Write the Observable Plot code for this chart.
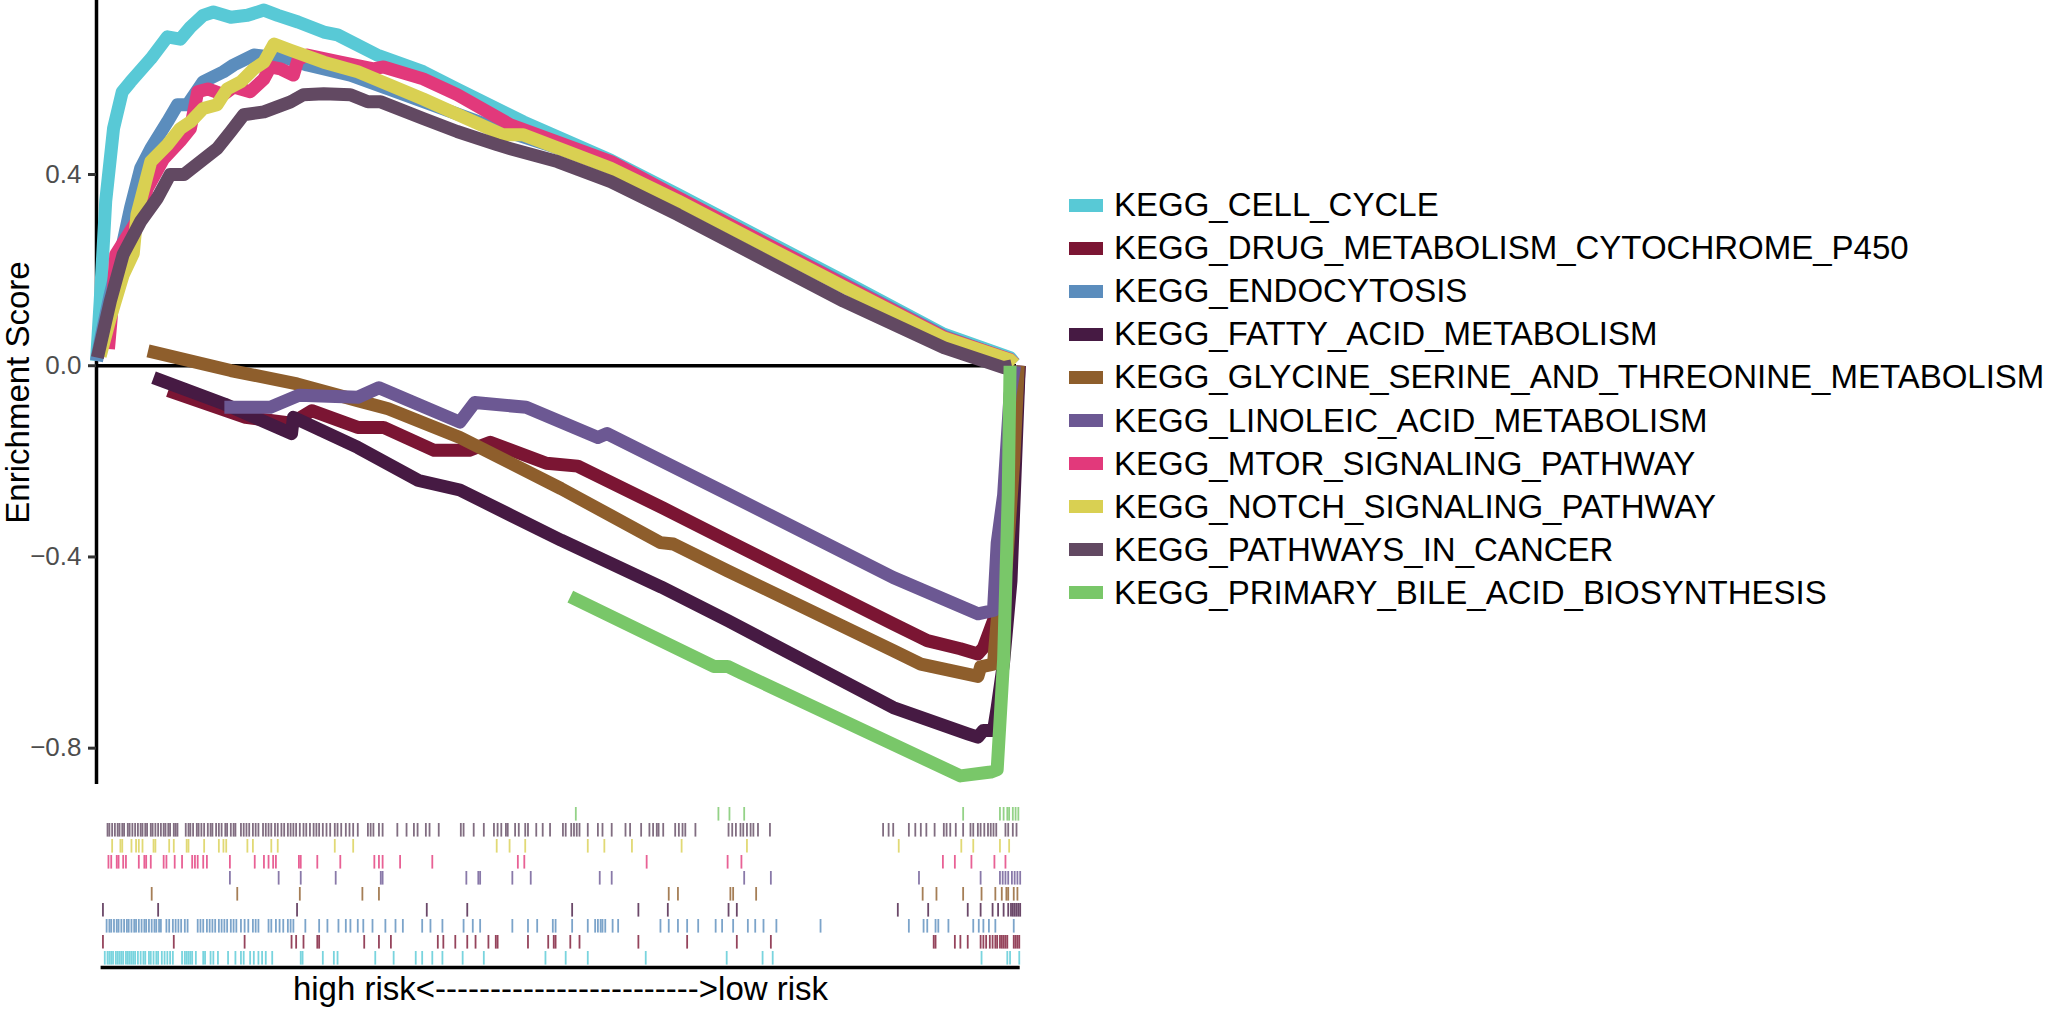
<!DOCTYPE html>
<html>
<head>
<meta charset="utf-8">
<script src="https://cdn.jsdelivr.net/npm/d3@7"></script>
<script src="https://cdn.jsdelivr.net/npm/@observablehq/plot@0.6"></script>
<style>
  html, body { margin: 0; padding: 0; background: #fff; }
  #wrap { position: relative; width: 2050px; height: 1011px; background: #fff; font-family: 'Liberation Sans', Arial, sans-serif; }
  #toppanel { position: absolute; left: 0; top: 0; }
  #rugpanel { position: absolute; left: 0; top: 790px; }
  #legend { position: absolute; left: 1069px; top: 183.5px; font-size: 33px; color: #000; }
  .row { display: flex; align-items: center; height: 43.1px; white-space: nowrap; }
  .key { display: inline-block; width: 34px; height: 13px; margin-right: 11px; }
</style>
</head>
<body>
<div id="wrap">
  <div id="toppanel"></div>
  <div id="rugpanel"></div>
  <div id="legend"></div>
</div>
<script>
// ---------- data ----------
const pathways = [
  "KEGG_CELL_CYCLE",
  "KEGG_DRUG_METABOLISM_CYTOCHROME_P450",
  "KEGG_ENDOCYTOSIS",
  "KEGG_FATTY_ACID_METABOLISM",
  "KEGG_GLYCINE_SERINE_AND_THREONINE_METABOLISM",
  "KEGG_LINOLEIC_ACID_METABOLISM",
  "KEGG_MTOR_SIGNALING_PATHWAY",
  "KEGG_NOTCH_SIGNALING_PATHWAY",
  "KEGG_PATHWAYS_IN_CANCER",
  "KEGG_PRIMARY_BILE_ACID_BIOSYNTHESIS"
];
const colors = ["#58C9D6", "#7B1533", "#5B8DBD", "#461A43", "#8E5E2C",
                "#6C5893", "#E2397B", "#D9D052", "#624962", "#79C769"];

const yTicks = [-0.8, -0.4, 0, 0.4];
const xLabel = "high risk<------------------------>low risk";
const yLabel = "Enrichment Score";

// running enrichment score: [rank position (% of ranked list), ES]
const esCellCycle = [[0,0.01],[0.4,0.135],[1.0,0.344],[1.85,0.496],[2.8,0.573],[3.7,0.594],[5.9,0.642],[7.7,0.688],[9.1,0.683],[10.2,0.708],[11.6,0.733],[12.7,0.74],[14.6,0.729],[16.4,0.733],[18.2,0.744],[19.7,0.733],[21.9,0.719],[24.7,0.698],[26.2,0.692],[30.5,0.65],[35.5,0.615],[39.2,0.579],[46.4,0.51],[55.9,0.43],[63.2,0.358],[81.2,0.177],[92.1,0.066],[99.3,0.017],[99.8,0.005]];
const esDrug = [[7.8,-0.052],[16.2,-0.108],[21.2,-0.12],[23.4,-0.094],[28.4,-0.129],[31.2,-0.129],[36.7,-0.177],[40.5,-0.177],[42.8,-0.16],[48.9,-0.204],[52.3,-0.21],[61.6,-0.298],[68.6,-0.366],[86.6,-0.54],[90.3,-0.575],[93.9,-0.592],[95.8,-0.603],[96.4,-0.59],[97.5,-0.533],[98.6,-0.47],[99.4,-0.35],[100.0,-0.1],[100.3,0]];
const esEndocytosis = [[0,0.01],[0.5,0.06],[1.5,0.15],[2.6,0.233],[3.7,0.33],[4.8,0.413],[5.9,0.454],[7.7,0.51],[8.8,0.546],[9.9,0.546],[11.6,0.594],[13.8,0.615],[14.9,0.629],[17.1,0.65],[18.9,0.646],[20.3,0.646],[22.9,0.629],[27.6,0.608],[33.0,0.57],[43.6,0.496],[55.9,0.42],[63.2,0.35],[81.2,0.172],[92.1,0.062],[99.5,0.01]];
const esFatty = [[6.2,-0.025],[13.9,-0.08],[21.2,-0.142],[21.4,-0.108],[28.4,-0.171],[35.0,-0.24],[39.5,-0.26],[50.5,-0.365],[61.4,-0.463],[68.6,-0.533],[86.6,-0.715],[94.7,-0.77],[95.8,-0.777],[96.4,-0.763],[97.5,-0.763],[97.9,-0.715],[98.6,-0.62],[99.4,-0.45],[100.0,-0.15],[100.3,0]];
const esGlycine = [[5.6,0.031],[14.6,-0.01],[21.8,-0.038],[28.4,-0.073],[31.7,-0.09],[39.5,-0.15],[50.5,-0.257],[61.3,-0.37],[62.7,-0.373],[68.6,-0.429],[86.6,-0.596],[89.6,-0.624],[95.8,-0.65],[96.1,-0.63],[97.5,-0.624],[97.9,-0.533],[98.9,-0.42],[99.7,-0.2],[100.2,0]];
const esLinoleic = [[13.9,-0.087],[18.9,-0.087],[22.0,-0.062],[28.4,-0.066],[30.7,-0.046],[39.5,-0.118],[41.1,-0.077],[46.7,-0.087],[54.5,-0.15],[55.5,-0.142],[68.6,-0.268],[86.6,-0.443],[95.8,-0.519],[97.5,-0.512],[97.9,-0.371],[98.6,-0.27],[99.3,-0.06],[99.8,0]];
const esMtor = [[1.3,0.035],[1.6,0.1],[2.1,0.233],[4.8,0.316],[5.5,0.37],[7.3,0.433],[9.1,0.47],[10.2,0.496],[11.0,0.573],[12.1,0.579],[13.8,0.567],[14.9,0.583],[16.7,0.573],[18.2,0.6],[18.9,0.625],[20.0,0.621],[21.4,0.608],[21.9,0.64],[22.9,0.65],[26.5,0.635],[30.1,0.621],[31.2,0.625],[35.5,0.6],[39.2,0.567],[45.0,0.504],[55.9,0.427],[63.2,0.352],[81.2,0.17],[92.1,0.06],[99.3,0.013],[99.8,0.004]];
const esNotch = [[0.4,0.02],[1.5,0.1],[2.9,0.19],[4.0,0.235],[4.4,0.316],[5.9,0.427],[7.7,0.462],[9.1,0.496],[10.2,0.51],[11.6,0.538],[13.1,0.546],[14.2,0.579],[15.7,0.594],[17.1,0.621],[18.2,0.635],[19.3,0.673],[21.1,0.66],[24.7,0.635],[28.4,0.615],[35.5,0.558],[44.2,0.483],[46.4,0.483],[55.9,0.413],[63.2,0.345],[81.2,0.165],[92.1,0.058],[99.3,0.012],[99.8,0.003]];
const esCancer = [[0.1,0.017],[1.5,0.135],[2.9,0.233],[4.8,0.302],[6.6,0.35],[8.0,0.4],[9.5,0.4],[11.3,0.427],[13.1,0.454],[14.6,0.49],[16.0,0.525],[18.2,0.531],[21.1,0.552],[22.5,0.567],[24.7,0.569],[27.6,0.567],[29.5,0.552],[30.9,0.552],[35.5,0.517],[39.2,0.49],[43.6,0.462],[45.0,0.454],[50.1,0.427],[55.9,0.385],[63.2,0.316],[81.2,0.135],[92.1,0.038],[98.6,-0.004],[99.5,0.0]];
const esBile = [[51.5,-0.483],[67.1,-0.629],[68.6,-0.629],[70.0,-0.642],[93.9,-0.858],[97.2,-0.85],[97.9,-0.845],[98.6,-0.615],[99.1,-0.27],[99.3,0]];

// gene hit positions (% of ranked list)
const hitsCellCycle = [0.9,1.2,1.4,1.6,1.8,2.1,2.3,2.5,2.7,2.9,3.2,3.4,3.6,3.8,4.0,4.2,4.5,4.8,5.1,5.3,5.7,5.9,6.2,6.5,6.7,7.1,7.4,7.7,8.0,8.3,9.3,9.6,9.8,10.0,10.2,10.4,10.8,11.6,11.8,12.4,12.7,13.2,14.3,15.1,15.7,16.0,16.7,17.1,17.6,18.0,18.4,19.1,22.2,22.4,24.6,25.8,26.2,30.3,32.3,34.7,35.4,36.5,37.6,39.8,42.1,48.8,51.0,53.4,59.7,68.5,72.4,73.5,96.2,99.0,99.3,100.3];
const hitsDrug = [0.7,8.4,16.1,21.2,21.7,22.5,24.0,24.2,29.1,30.7,32.0,37.1,37.7,39.0,40.3,41.2,42.6,43.4,43.6,46.9,49.1,49.7,49.9,51.5,52.5,58.9,64.2,69.6,73.3,91.0,91.2,93.3,93.9,94.7,96.1,96.4,96.7,97.1,97.4,97.7,97.9,98.2,98.4,98.6,98.8,99.0,99.7,99.9,100.1,100.3];
const hitsEndocytosis = [1.1,1.4,1.6,1.9,2.2,2.4,2.7,3.0,3.3,3.5,3.8,4.1,4.3,4.6,4.9,5.2,5.4,5.7,6.0,6.3,6.5,6.8,7.0,7.6,7.9,8.3,8.6,8.9,9.2,9.6,9.9,11.0,11.3,11.6,12.0,12.3,12.6,12.9,13.3,13.6,13.9,14.2,14.6,14.9,15.2,15.7,16.1,16.5,17.0,17.3,17.6,18.7,19.0,19.5,19.9,20.3,20.8,21.1,21.4,22.7,24.2,25.1,26.3,27.1,27.6,28.4,29.0,30.0,31.4,32.5,33.3,35.4,36.3,37.6,39.9,40.9,41.7,45.2,46.9,47.9,49.6,49.9,51.7,53.4,54.2,54.5,54.8,55.0,55.3,56.1,56.7,61.3,62.2,63.2,64.2,65.4,67.3,68.0,69.2,70.8,71.6,72.5,73.9,78.7,88.3,89.9,90.3,91.2,91.5,92.6,95.3,95.9,96.4,97.0,97.7,99.7];
const hitsFatty = [0.7,6.7,21.8,35.9,40.3,51.7,58.9,62.1,68.7,69.6,87.1,90.4,94.7,96.1,97.4,98.0,98.6,99.1,99.4,99.6,99.8,100.0,100.2,100.4];
const hitsGlycine = [6.0,15.3,22.1,28.9,30.7,62.2,63.2,68.9,69.2,71.7,89.8,91.3,94.2,96.2,97.7,98.4,98.9,99.1,99.7,100.1];
const hitsLinoleic = [14.5,19.8,22.2,26.0,30.9,31.1,40.2,41.5,41.7,45.2,47.2,54.7,56.0,70.4,73.3,89.4,96.1,98.2,98.5,98.8,99.1,99.5,99.8,100.1,100.4];
const hitsMtor = [1.3,1.6,2.2,2.4,2.9,3.2,4.6,5.2,5.4,5.9,7.3,7.6,8.5,9.3,10.4,10.7,11.0,11.6,12.0,14.5,17.2,18.2,18.7,19.2,19.5,22.0,22.2,24.0,26.5,30.2,30.7,31.1,33.0,36.5,45.8,46.5,59.8,68.6,70.1,92.0,93.3,95.1,97.6,98.8];
const hitsNotch = [1.7,2.6,2.8,3.8,4.3,4.6,5.0,6.2,6.4,7.9,8.4,9.8,10.0,11.7,13.3,13.8,14.1,16.4,17.0,19.0,19.7,25.9,27.9,43.5,44.9,46.6,53.4,55.2,58.2,63.6,70.7,87.2,94.0,95.3,98.2,99.2];
const hitsCancer = [1.2,1.4,1.7,2.0,2.3,2.5,2.8,3.0,3.4,3.6,3.9,4.2,4.5,4.8,5.0,5.3,5.5,5.9,6.1,6.4,6.7,7.0,7.3,7.5,7.8,8.0,8.4,8.6,8.8,9.7,10.0,10.2,10.5,10.9,11.1,11.4,11.7,12.1,12.4,12.6,13.0,13.3,13.6,14.0,14.2,14.6,14.9,15.1,15.7,16.0,16.3,16.6,17.0,17.3,17.6,18.1,18.4,18.7,19.0,19.4,19.7,20.1,20.4,20.8,21.1,21.4,21.7,22.1,22.5,22.8,23.2,23.6,23.9,24.2,24.6,25.0,25.4,25.9,26.2,26.6,27.1,27.5,27.9,28.4,29.5,29.8,30.1,30.7,31.1,32.7,33.7,34.5,34.9,35.8,36.2,37.2,39.6,39.9,41.0,42.1,43.2,43.6,44.0,44.5,44.7,45.5,45.9,46.6,46.9,47.8,48.5,49.3,50.7,51.0,51.6,51.9,52.2,52.5,53.4,54.5,55.0,56.0,57.5,58.0,59.2,60.1,60.5,60.9,61.1,61.6,62.9,63.3,63.7,64.0,65.1,68.7,69.1,69.5,70.0,70.3,70.7,71.1,71.4,71.9,73.2,85.5,86.1,86.6,88.3,89.0,89.6,90.2,91.1,92.1,92.4,92.8,93.4,94.2,95.0,95.3,95.8,96.1,96.5,96.9,97.2,97.5,97.8,98.8,99.1,99.6,100.0];
const hitsBile = [52.1,67.6,68.8,70.4,94.2,98.2,98.6,99.0,99.2,99.6,99.9,100.2];

const esSeries = [esCellCycle, esDrug, esEndocytosis, esFatty, esGlycine, esLinoleic, esMtor, esNotch, esCancer, esBile];
const hitSeries = [hitsCellCycle, hitsDrug, hitsEndocytosis, hitsFatty, hitsGlycine, hitsLinoleic, hitsMtor, hitsNotch, hitsCancer, hitsBile];

// ---------- build tables ----------
const esRows = pathways.map((p, i) => esSeries[i].map(([x, y]) => ({pathway: p, x, y})));
const rugRows = pathways.flatMap((p, i) => hitSeries[i].map(x => ({pathway: p, x, row: i})));

const fontStack = "'Liberation Sans', Arial, sans-serif";
const colorScale = {domain: pathways, range: colors};
const yDomain = [-0.876, 0.764];
const fmt = d => d.toFixed(1).replace("-", "\u2212");

// ---------- top panel ----------
const esChart = Plot.plot({
  width: 1040, height: 790,
  marginLeft: 96, marginRight: 24, marginTop: 0, marginBottom: 6,
  x: {domain: [0, 100], axis: null},
  y: {domain: yDomain, axis: null},
  color: colorScale,
  style: {fontFamily: fontStack, background: "transparent", overflow: "visible"},
  marks: [
    Plot.ruleY([0], {x1: 0, x2: 100, stroke: "black", strokeWidth: 3.5}),
    Plot.ruleX([0], {y1: yDomain[0], y2: yDomain[1], stroke: "black", strokeWidth: 3.5}),
    Plot.axisY({ticks: yTicks, tickFormat: fmt, tickSize: 8, tickPadding: 7, fontSize: 26,
                stroke: "#333333", fill: "#4D4D4D", strokeWidth: 3, label: null}),
    ...esRows.map(rows => Plot.line(rows, {x: "x", y: "y", stroke: "pathway", strokeWidth: 13,
                                           strokeLinecap: "butt", strokeLinejoin: "round"})),
    Plot.text([yLabel], {frameAnchor: "left", rotate: -90, dx: -78, lineAnchor: "middle",
                         textAnchor: "middle", fontSize: 33, fill: "black"})
  ]
});
document.getElementById("toppanel").appendChild(esChart);

// ---------- rug panel ----------
const rugChart = Plot.plot({
  width: 1040, height: 221,
  marginLeft: 96, marginRight: 24, marginTop: 17, marginBottom: 44,
  x: {domain: [0, 100], axis: null},
  y: {domain: [0, 10], axis: null},
  color: colorScale,
  style: {fontFamily: fontStack, background: "transparent", overflow: "visible"},
  marks: [
    Plot.ruleX(rugRows, {x: "x", y1: d => d.row + 0.15, y2: d => d.row + 1,
                         stroke: "pathway", strokeWidth: 1.8, strokeOpacity: 0.8}),
    Plot.ruleY([0], {x1: 0.5, x2: 100.4, stroke: "black", strokeWidth: 3.5}),
    Plot.text([xLabel], {frameAnchor: "bottom", lineAnchor: "top", dy: 9, dx: 4,
                         fontSize: 33, fill: "black"})
  ]
});
document.getElementById("rugpanel").appendChild(rugChart);

// ---------- legend ----------
const legendBox = document.getElementById("legend");
pathways.forEach((p, i) => {
  const row = document.createElement("div");
  row.className = "row";
  const key = document.createElement("span");
  key.className = "key";
  key.style.background = colors[i];
  const label = document.createElement("span");
  label.textContent = p;
  row.appendChild(key);
  row.appendChild(label);
  legendBox.appendChild(row);
});
</script>
</body>
</html>
